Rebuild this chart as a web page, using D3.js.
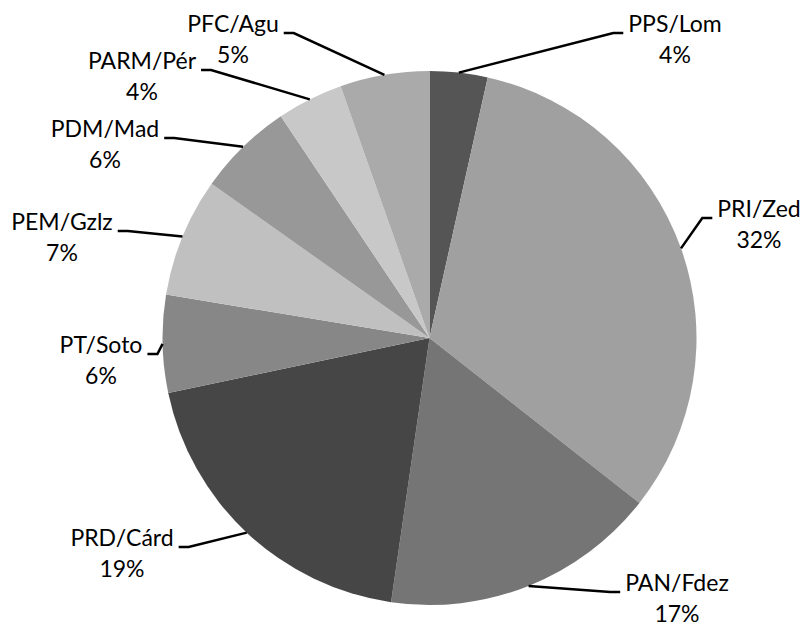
<!DOCTYPE html>
<html>
<head>
<meta charset="utf-8">
<script src="https://cdn.jsdelivr.net/npm/d3@7"></script>
<style>
  html, body { margin: 0; padding: 0; background: #fff; }
  svg { display: block; }
  text { font-family: Lato, "Open Sans", sans-serif; fill: #000; }
</style>
</head>
<body>
<svg id="chart" width="804" height="626"></svg>
<script>
// ---- data ----
const categories = ["PPS/Lom", "PRI/Zed", "PAN/Fdez", "PRD/Cárd", "PT/Soto", "PEM/Gzlz", "PDM/Mad", "PARM/Pér", "PFC/Agu"];
const values     = [3.5, 32.1, 16.7, 19.4, 5.9, 7.2, 5.8, 4.0, 5.4];
const pctLabels  = ["4%", "32%", "17%", "19%", "6%", "7%", "6%", "4%", "5%"];

// ---- styles / layout (not data) ----
const colors = ["#555555", "#a0a0a0", "#757575", "#464646", "#878787", "#c0c0c0", "#989898", "#c8c8c8", "#aaaaaa"];
// label text centre x and first-line baseline y, plus which side the leader attaches
const labelAt = [
  [675, 32, "right"], [759, 217, "right"], [677, 591, "right"],
  [122, 546, "left"], [101, 353, "left"], [62, 230, "left"],
  [105, 137, "left"], [142, 69, "left"], [233, 32, "left"]
];

const W = 804, H = 626;
const cx = 429.5, cy = 338, R = 267;
const fontSize = 23, lineGap = 31;

const svg = d3.select("#chart");
const g = svg.append("g").attr("transform", `translate(${cx},${cy})`);

const pie = d3.pie().sort(null).value(d => d)(values);
const arc = d3.arc().innerRadius(0).outerRadius(R);
const edge = d3.arc().innerRadius(R).outerRadius(R);

g.selectAll("path.slice").data(pie).enter().append("path")
  .attr("class", "slice")
  .attr("d", arc)
  .attr("fill", (d, i) => colors[i]);

const labels = svg.append("g");
pie.forEach((d, i) => {
  const [lx, ly, side] = labelAt[i];
  const t = labels.append("text")
    .attr("text-anchor", "middle")
    .attr("font-size", fontSize);
  const t1 = t.append("tspan").attr("x", lx).attr("y", ly).text(categories[i]);
  t.append("tspan").attr("x", lx).attr("y", ly + lineGap).text(pctLabels[i]);
  const w = t1.node().getComputedTextLength();
  const [sx, sy] = edge.centroid(d);
  const start = [cx + sx, cy + sy];
  let end, elbow;
  if (side === "right") {
    end = [lx - w / 2 - 5, ly + 1];
    elbow = [end[0] - 10, end[1]];
  } else {
    end = [lx + w / 2 + 5, ly + 1];
    elbow = [end[0] + 10, end[1]];
  }
  labels.append("path")
    .attr("d", d3.line()([start, elbow, end]))
    .attr("fill", "none")
    .attr("stroke", "#000")
    .attr("stroke-width", 2.5);
});
</script>
</body>
</html>
